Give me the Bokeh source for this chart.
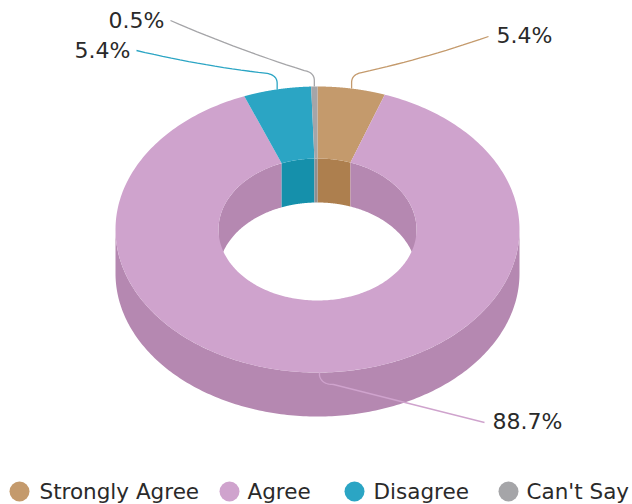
import numpy as np
from bokeh.plotting import figure
from bokeh.core.properties import value
from bokeh.embed import file_html
from bokeh.resources import INLINE

categories = ["Strongly Agree", "Agree", "Disagree", "Can't Say"]
shares = [5.4, 88.7, 5.4, 0.5]
share_labels = ["5.4%", "88.7%", "5.4%", "0.5%"]

top_colors = ["#c49a6c", "#cfa3cd", "#2ba5c4", "#a5a5a8"]
wall_colors = ["#ad7f4e", "#b588b1", "#1590ab", "#8f8f92"]
line_colors = ["#c49a6c", "#cfa3cd", "#2ba5c4", "#a5a5a8"]

cx, cy, rx, ry = 317.0, 229.0, 202.0, 143.0
irx, iry = 99.0, 71.0
depth = 44.0

W, H = 632, 504
p = figure(width=W, height=H, x_range=(0, W), y_range=(H, 0),
           output_backend="svg", toolbar_location=None, min_border=0,
           outline_line_color=None)
p.axis.visible = False
p.grid.visible = False
p.background_fill_color = "white"


def pt(a, rxx, ryy, dy=0.0):
    return cx + rxx * np.sin(a), cy - ryy * np.cos(a) + dy


cum = np.concatenate([[0.0], np.cumsum(shares)]) / sum(shares) * 2 * np.pi

# outer wall (front half) and inner wall (back half)
for i in range(len(shares)):
    a0, a1 = cum[i], cum[i + 1]
    lo, hi = max(a0, np.pi / 2), min(a1, 3 * np.pi / 2)
    if hi > lo:
        t = np.linspace(lo, hi, 200)
        x, y = pt(t, rx, ry)
        x2, y2 = pt(t[::-1], rx, ry, depth)
        p.patch(np.r_[x, x2], np.r_[y, y2], fill_color=wall_colors[i], line_color=None)
    for lo, hi in [(a0, min(a1, np.pi / 2)), (max(a0, 3 * np.pi / 2), a1)]:
        if hi > lo:
            t = np.linspace(lo, hi, 100)
            x, y = pt(t, irx, iry)
            x2, y2 = pt(t[::-1], irx, iry, depth)
            p.patch(np.r_[x, x2], np.r_[y, y2], fill_color=wall_colors[i], line_color=None)

# top face
for i in range(len(shares)):
    t = np.linspace(cum[i], cum[i + 1], 300)
    x, y = pt(t, rx, ry)
    x2, y2 = pt(t[::-1], irx, iry)
    p.patch(np.r_[x, x2], np.r_[y, y2], fill_color=top_colors[i], line_color=None)

# leader lines: anchor on the rim, then a curve out to the label
leader_targets = [(488, 36), (484, 422), (136, 50), (170, 20)]
label_anchor = [(496, 35, "left"), (492, 421, "left"), (130, 50, "right"), (164, 20, "right")]
for i in range(len(shares)):
    mid = (cum[i] + cum[i + 1]) / 2
    ax, ay = pt(mid, rx, ry, 0.0)
    tx, ty = leader_targets[i]
    c = np.linspace(0, 1, 16)
    if i == 1:
        ax, ay = cx + 2, cy + ry
        sx, sy = ax, ay + 3
        bx = (1 - c) ** 2 * sx + 2 * (1 - c) * c * (sx + 2) + c * c * (sx + 14)
        by = (1 - c) ** 2 * sy + 2 * (1 - c) * c * (sy + 9) + c * c * (sy + 9)
        xs = np.r_[ax, bx, tx]
        ys = np.r_[ay, by, ty]
    else:
        s = 1 if tx > ax else -1
        ky = ay - 6
        ex, ey = ax + s * 10, ay - 16
        bx = (1 - c) ** 2 * ax + 2 * (1 - c) * c * ax + c * c * ex
        by = (1 - c) ** 2 * ky + 2 * (1 - c) * c * (ky - 8) + c * c * ey
        # gentle bow on the long run to the label
        mx, my = (ex + tx) / 2, (ey + ty) / 2 + 4
        lx_ = (1 - c) ** 2 * ex + 2 * (1 - c) * c * mx + c * c * tx
        ly_ = (1 - c) ** 2 * ey + 2 * (1 - c) * c * my + c * c * ty
        xs = np.r_[ax, bx, lx_]
        ys = np.r_[ay, by, ly_]
    p.line(xs, ys, line_color=line_colors[i], line_width=1.3)
    lx, ly, al = label_anchor[i]
    p.text([lx], [ly], text=[share_labels[i]], text_font=value("DejaVu Sans"),
           text_font_size="22px", text_color="#2a2a2a", text_align=al, text_baseline="middle")

# legend
legend_dot_x = [19, 229, 354, 508]
legend_text_x = [39, 247, 373, 526]
legend_y = 491
p.scatter(legend_dot_x, [legend_y] * 4, size=20, marker="circle", fill_color=top_colors, line_color=None)
p.text(legend_text_x, [legend_y] * 4, text=categories, text_font=value("DejaVu Sans"),
       text_font_size="21.5px", text_color="#2a2a2a", text_align="left", text_baseline="middle")

open("out.html", "w").write(file_html(p, INLINE))
